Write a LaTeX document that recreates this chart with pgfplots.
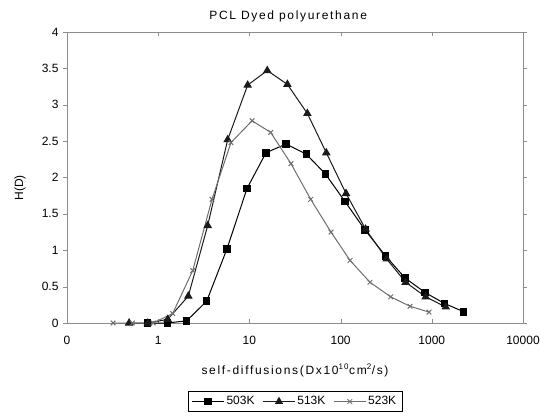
\documentclass[border=0pt]{standalone}
\usepackage{fontspec}
\setmainfont{Liberation Sans}
\newfontfamily\widefont[LetterSpace=14]{Liberation Sans}
\usepackage{pgfplots}
\pgfplotsset{compat=1.18}
\definecolor{grayline}{HTML}{6E6E6E}
\definecolor{framegray}{HTML}{8C8C8C}
\definecolor{darkline}{HTML}{1A1A1A}

\begin{document}
\begin{tikzpicture}
% fix the page to the reference proportions (axis box at the origin)
\useasboundingbox (-67pt,-95pt) rectangle (481pt,323pt);
\begin{axis}[
    name=ax,
    at={(0,0)}, anchor=south west,
    scale only axis,
    width=456pt, height=291pt,
    xmode=log,
    xmin=0.1, xmax=10000,
    ymin=0, ymax=4,
    xtick={0.1,1,10,100,1000,10000},
    xticklabels={0,1,10,100,1000,10000},
    ytick={0,0.5,1,1.5,2,2.5,3,3.5,4},
    yticklabels={0,0.5,1,1.5,2,2.5,3,3.5,4},
    xminorticks=false,
    x tick style={framegray},
    y tick style={framegray},
    xtick align=inside,
    ytick align=outside,
    major tick length=4pt,
    axis line style={framegray},
    font=\fontsize{12}{14}\selectfont,
    xticklabel style={yshift=-10pt},
    yticklabel style={xshift=-1pt},
    title={\widefont PCL Dyed polyurethane},
    title style={at={(axis description cs:0.485,1)}, anchor=south, yshift=0pt},
    xlabel={\widefont self-diffusions(Dx10\textsuperscript{10}cm\textsuperscript{2}/s)},
    xlabel style={at={(axis description cs:0.5,-0.13)}, anchor=north},
    ylabel={H(D)},
    ylabel style={at={(axis description cs:-0.103,0.464)}, anchor=center},
    legend columns=3,
    legend style={at={(0.5,-0.235)}, anchor=north, draw=black,
        font=\fontsize{12}{14}\selectfont, inner ysep=3pt, inner xsep=4pt,
        /tikz/every even column/.append style={column sep=6pt}},
    legend image code/.code={%
        \draw[mark repeat=2,mark phase=2,line width=0.8pt]
        plot coordinates {(0pt,0pt) (16pt,0pt) (32pt,0pt)};},
    legend cell align=left,
]
\addplot[black, line width=1pt, mark=square*, mark size=3.3pt]
coordinates {(0.76,0) (1.26,0) (2.05,0.03) (3.40,0.30) (5.68,1.02) (9.42,1.85)
(15.2,2.34) (25.2,2.46) (42.1,2.32) (68,2.05) (111.7,1.67) (185,1.28)
(312,0.92) (508,0.62) (841,0.42) (1371,0.27) (2234,0.155)};
\addlegendentry{503K}
\addplot[darkline, line width=1pt, mark=triangle*, mark size=4pt]
coordinates {(0.48,0) (0.77,0) (1.27,0.05) (2.14,0.37) (3.49,1.34) (5.78,2.52)
(9.57,3.27) (15.7,3.47) (26.1,3.28) (43.2,2.88) (69.7,2.34) (114.7,1.78)
(188,1.29) (320,0.88) (517,0.56) (857,0.36) (1422,0.22)};
\addlegendentry{513K}
\addplot[grayline, line width=1pt, mark=x, mark size=3.3pt]
coordinates {(0.32,0) (0.52,0) (0.88,0) (1.44,0.13) (2.39,0.72) (3.89,1.70)
(6.28,2.48) (10.7,2.78) (17.1,2.62) (28.6,2.19) (47,1.70) (78.5,1.25)
(127,0.86) (210,0.56) (354,0.36) (577,0.23) (931,0.15)};
\addlegendentry{523K}
\end{axis}
\end{tikzpicture}
\end{document}
